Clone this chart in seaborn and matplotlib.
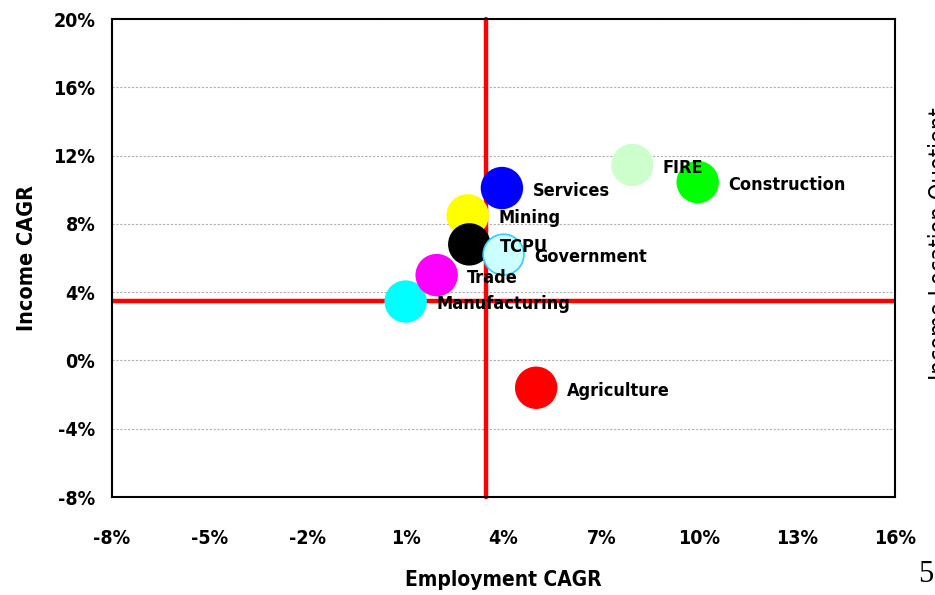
import matplotlib
matplotlib.use("Agg")
import matplotlib.pyplot as plt
import seaborn as sns
import pandas as pd
from matplotlib.ticker import FuncFormatter

industries = ["Agriculture", "Mining", "Construction", "Manufacturing", "TCPU",
              "Trade", "FIRE", "Services", "Government"]
employment_cagr = [5.0, 2.9, 9.95, 1.0, 2.95, 1.95, 7.95, 3.95, 4.0]
income_cagr = [-1.6, 8.5, 10.45, 3.45, 6.8, 5.0, 11.45, 10.1, 6.2]
fill_colors = ["#FF0000", "#FFFF00", "#00FF00", "#00FFFF", "#000000",
               "#FF00FF", "#CCFFCC", "#0000FF", "#CCFFFF"]
edge_colors = ["#FF0000", "#FFFF00", "#00FF00", "#00FFFF", "#000000",
               "#FF00FF", "#CCFFCC", "#0000FF", "#33CCFF"]
avg_employment = 3.45
avg_income = 3.5
x_ticks = [-8, -5, -2, 1, 4, 7, 10, 13, 16]
y_ticks = [-8, -4, 0, 4, 8, 12, 16, 20]

df = pd.DataFrame({"industry": industries, "emp": employment_cagr, "inc": income_cagr})

sns.set_style("white")
plt.rcParams["font.family"] = ["DejaVu Sans"]
plt.rcParams["font.stretch"] = "condensed"
for k in ["text.color", "axes.labelcolor", "xtick.color", "ytick.color"]:
    plt.rcParams[k] = "#000000"

fig = plt.figure(figsize=(9.35, 5.95), dpi=100)
ax = fig.add_axes([0.1198, 0.1647, 0.8375, 0.8033])

for yv in y_ticks:
    ax.axhline(yv, color="#B0B0B0", lw=0.8, ls=(0, (2, 1.5)), zorder=0)

ax.axvline(avg_employment, color="#FF0000", lw=3.2, zorder=1, clip_on=False)
ax.axhline(avg_income, color="#FF0000", lw=3.2, zorder=1)

sns.scatterplot(data=df, x="emp", y="inc", hue="industry", palette=fill_colors,
                s=860, linewidth=1.2, legend=False, ax=ax, zorder=3)
coll = ax.collections[-1]
coll.set_edgecolors(edge_colors)
coll.set_facecolors(fill_colors)

for name, xv, yv in zip(industries, employment_cagr, income_cagr):
    ax.annotate(name, (xv, yv), xytext=(22, -2), textcoords="offset points",
                ha="left", va="center", fontsize=13, fontweight="bold",
                fontstretch="condensed", color="#000000", zorder=5)

ax.set_xlim(-8, 16)
ax.set_ylim(-8, 20)
ax.set_xticks(x_ticks)
ax.set_yticks(y_ticks)
ax.xaxis.set_major_formatter(FuncFormatter(lambda v, p: f"{v:.0f}%"))
ax.yaxis.set_major_formatter(FuncFormatter(lambda v, p: f"{v:.0f}%"))
ax.tick_params(axis="both", length=0, labelsize=14)
ax.tick_params(axis="x", pad=23)
ax.tick_params(axis="y", pad=12)
for lab in ax.get_xticklabels() + ax.get_yticklabels():
    lab.set_fontweight("bold")
    lab.set_fontstretch("condensed")
for sp in ax.spines.values():
    sp.set_color("#000000")
    sp.set_linewidth(1.5)

ax.set_xlabel("Employment CAGR", fontsize=15, fontweight="bold", labelpad=16,
              fontstretch="condensed")
ax.set_ylabel("Income CAGR", fontsize=15.5, fontweight="bold", labelpad=12,
              fontstretch="condensed")

fig.text(0.9925, 0.59, "Income Location Quotient", rotation=90, ha="left", va="center",
         fontsize=17, family=["DejaVu Sans"], color="#000000")
fig.text(0.982, 0.01, "5", ha="left", va="bottom", fontsize=22,
         family=["Liberation Serif", "DejaVu Serif"], color="#000000")

fig.savefig("out.png", dpi=100)
